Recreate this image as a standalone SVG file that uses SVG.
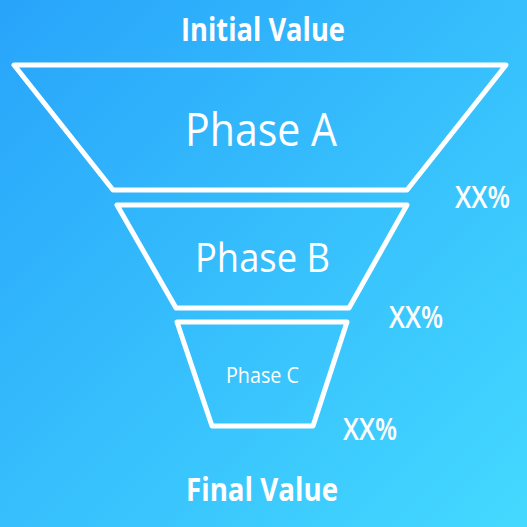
<svg xmlns="http://www.w3.org/2000/svg" width="527" height="527" viewBox="0 0 527 527">
  <defs>
    <linearGradient id="bg" x1="0" y1="0" x2="1" y2="1">
      <stop offset="0" stop-color="#28a4fa"/>
      <stop offset="1" stop-color="#44d9ff"/>
    </linearGradient>
    <style>
      .stage { fill: none; stroke: #ffffff; stroke-width: 5; stroke-linejoin: round; }
      .t { fill: #ffffff; font-family: "Open Sans", "Noto Sans", sans-serif; }
      .title { font-size: 32px; font-weight: 700; text-anchor: middle; }
      .phase { font-weight: 400; text-anchor: middle; }
      .pct { font-size: 30px; font-weight: 600; }
    </style>
  </defs>
  <rect x="0" y="0" width="527" height="527" fill="url(#bg)"/>

  <g id="initial-value">
    <text class="t title" x="263" y="41" textLength="164" lengthAdjust="spacingAndGlyphs">Initial Value</text>
  </g>

  <g id="phase-a">
    <polygon class="stage" points="14,65 506,65 407,190 113,190"/>
    <text class="t phase" x="261" y="146" font-size="46" textLength="152" lengthAdjust="spacingAndGlyphs">Phase A</text>
  </g>

  <g id="phase-b">
    <polygon class="stage" points="117,205 407,205 349,308 176,308"/>
    <text class="t phase" x="262.5" y="272" font-size="40" textLength="135" lengthAdjust="spacingAndGlyphs">Phase B</text>
  </g>

  <g id="phase-c">
    <polygon class="stage" points="177,322 347,322 313,426 212,426"/>
    <text class="t phase" x="262.5" y="383" font-size="22" textLength="73" lengthAdjust="spacingAndGlyphs">Phase C</text>
  </g>

  <g id="rate-a">
    <text class="t pct" x="455" y="208" textLength="55" lengthAdjust="spacingAndGlyphs">XX%</text>
  </g>
  <g id="rate-b">
    <text class="t pct" x="389" y="328" textLength="54" lengthAdjust="spacingAndGlyphs">XX%</text>
  </g>
  <g id="rate-c">
    <text class="t pct" x="343" y="440" textLength="54" lengthAdjust="spacingAndGlyphs">XX%</text>
  </g>

  <g id="final-value">
    <text class="t title" x="262" y="501" textLength="152" lengthAdjust="spacingAndGlyphs">Final Value</text>
  </g>

  <g id="connectors"></g>
</svg>
